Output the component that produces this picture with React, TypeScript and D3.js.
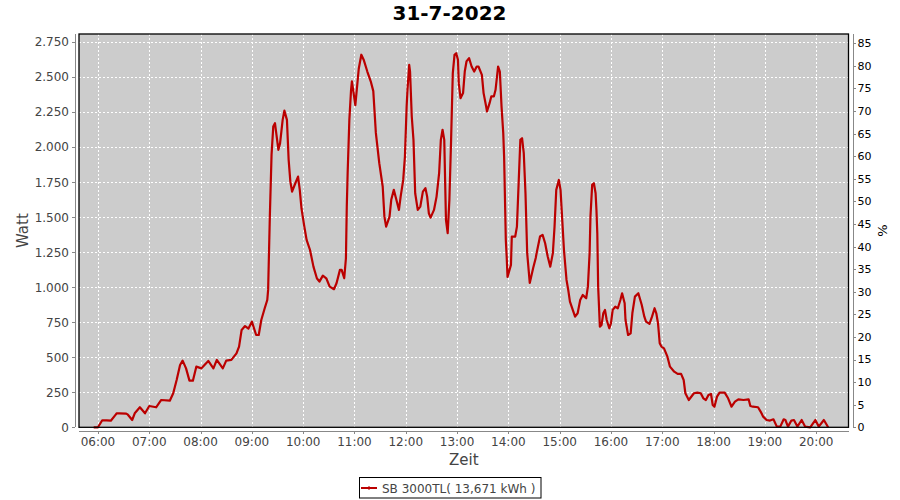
import React from "react";
import * as d3 from "d3";

const WIDTH = 900;
const HEIGHT = 500;
const PLOT = { left: 79, right: 848.5, top: 34, bottom: 427.3 };

const title = "31-7-2022";
const seriesName = "SB 3000TL( 13,671 kWh )";

// Messzeitpunkte (HH:MM) und Leistung in Watt, pro Stunde eine Zeile
const times = [
  "05:55", "06:00", "06:05", "06:10", "06:15", "06:20", "06:22", "06:25", "06:33", "06:35", "06:40", "06:43", "06:49", "06:55",
  "07:00", "07:08", "07:14", "07:24", "07:28", "07:32", "07:36", "07:39", "07:43", "07:47", "07:51", "07:55",
  "08:01", "08:09", "08:15", "08:19", "08:26", "08:30", "08:36", "08:42", "08:45", "08:48", "08:52", "08:56",
  "09:00", "09:05", "09:08", "09:11", "09:15", "09:18", "09:19", "09:21", "09:23", "09:25", "09:27", "09:31", "09:33", "09:36", "09:38", "09:41", "09:43", "09:45", "09:47", "09:50", "09:54", "09:56", "09:58",
  "10:01", "10:04", "10:08", "10:12", "10:16", "10:19", "10:23", "10:27", "10:31", "10:36", "10:39", "10:43", "10:45", "10:48", "10:50", "10:51", "10:52", "10:54", "10:56", "10:57",
  "11:01", "11:05", "11:08", "11:11", "11:15", "11:19", "11:22", "11:25", "11:29", "11:33", "11:35", "11:37", "11:41", "11:43", "11:46", "11:49", "11:52", "11:54", "11:57", "11:59",
  "12:01", "12:02", "12:04", "12:05", "12:07", "12:09", "12:11", "12:14", "12:17", "12:20", "12:23", "12:25", "12:27", "12:29", "12:33", "12:36", "12:39", "12:41", "12:43", "12:45", "12:47", "12:49", "12:51", "12:53", "12:55", "12:57", "12:59",
  "13:01", "13:02", "13:04", "13:07", "13:09", "13:11", "13:14", "13:17", "13:20", "13:23", "13:25", "13:29", "13:31", "13:34", "13:35", "13:38", "13:40", "13:43", "13:45", "13:48", "13:50", "13:52", "13:54", "13:55", "13:57", "13:58", "13:59",
  "14:03", "14:04", "14:08", "14:10", "14:12", "14:14", "14:16", "14:18", "14:20", "14:22", "14:25", "14:29", "14:32", "14:33", "14:37", "14:40", "14:43", "14:46", "14:49", "14:52", "14:54", "14:56", "14:59",
  "15:01", "15:03", "15:05", "15:08", "15:10", "15:12", "15:14", "15:16", "15:18", "15:21", "15:24", "15:27", "15:29", "15:31", "15:33", "15:35", "15:36", "15:38", "15:40", "15:42", "15:43", "15:44", "15:45", "15:47", "15:49", "15:51", "15:53", "15:55", "15:58",
  "16:00", "16:02", "16:05", "16:08", "16:11", "16:13", "16:16", "16:17", "16:20", "16:23", "16:25", "16:28", "16:32", "16:36", "16:39", "16:41", "16:45", "16:48", "16:51", "16:53", "16:55", "16:57", "16:59",
  "17:02", "17:06", "17:09", "17:14", "17:18", "17:22", "17:25", "17:27", "17:31", "17:37", "17:41", "17:45", "17:48", "17:51", "17:54", "17:57", "17:59",
  "18:01", "18:04", "18:07", "18:13", "18:17", "18:21", "18:25", "18:29", "18:35", "18:41", "18:43", "18:46", "18:52", "18:55", "18:58",
  "19:02", "19:06", "19:10", "19:14", "19:18", "19:22", "19:24", "19:27", "19:31", "19:34", "19:38", "19:43", "19:47", "19:53", "19:59",
  "20:03", "20:09", "20:14",
];

const watts = [
  0, 0, 50, 50, 47, 85, 100, 100, 98, 90, 52, 100, 143, 100,
  152, 143, 195, 190, 243, 338, 445, 476, 421, 333, 333, 433,
  421, 474, 421, 481, 421, 476, 481, 528, 576, 695, 723, 705,
  754, 659, 659, 766, 850, 909, 981, 1504, 1945, 2147, 2171, 1981, 2029, 2195, 2261, 2195, 1909, 1754, 1683, 1730, 1790, 1695, 1564,
  1445, 1338, 1266, 1147, 1064, 1040, 1083, 1064, 1004, 986, 1028, 1124, 1124, 1064, 1207, 1576, 1814, 2195, 2409, 2470,
  2300, 2560, 2660, 2620, 2540, 2470, 2400, 2102, 1886, 1719, 1504, 1433, 1504, 1624, 1695, 1624, 1552, 1647, 1766, 1933,
  2290, 2409, 2588, 2540, 2219, 2052, 1671, 1552, 1576, 1683, 1707, 1647, 1528, 1497, 1552, 1647, 1814, 2052, 2124, 2052, 1481, 1386, 1624, 2052, 2529, 2659, 2671,
  2624, 2457, 2350, 2386, 2540, 2612, 2636, 2576, 2540, 2576, 2576, 2516, 2386, 2290, 2255, 2314, 2362, 2362, 2410, 2576, 2540, 2290, 2100, 1933, 1338, 1219, 1074,
  1160, 1362, 1362, 1433, 1743, 2052, 2064, 1957, 1671, 1243, 1031, 1138, 1209, 1243, 1362, 1374, 1314, 1219, 1147, 1243, 1433, 1695, 1766,
  1695, 1481, 1266, 1052, 981, 897, 861, 826, 790, 814, 909, 945, 933, 921, 1004, 1243, 1504, 1731, 1743, 1671, 1552, 1386, 1004, 719, 731, 814, 838, 766, 707,
  743, 838, 861, 850, 909, 957, 885, 766, 659, 671, 814, 933, 957, 873, 790, 754, 738, 790, 850, 814, 743, 600, 576,
  564, 504, 433, 397, 381, 381, 338, 243, 195, 243, 248, 243, 207, 195, 231, 238, 159,
  147, 219, 248, 248, 207, 147, 183, 200, 195, 200, 152, 147, 143, 112, 76,
  52, 48, 57, 5, 5, 57, 52, 5, 48, 52, 5, 52, 5, 0, 52,
  5, 52, 0,
];

const wattTicks = [0, 250, 500, 750, 1000, 1250, 1500, 1750, 2000, 2250, 2500, 2750];
const percentTicks = [0, 5, 10, 15, 20, 25, 30, 35, 40, 45, 50, 55, 60, 65, 70, 75, 80, 85];
const hourTicks = ["06:00", "07:00", "08:00", "09:00", "10:00", "11:00", "12:00", "13:00", "14:00", "15:00", "16:00", "17:00", "18:00", "19:00", "20:00"];

const parse = d3.timeParse("%Y-%m-%d %H:%M:%S");
const at = (t: string) => parse(`2022-07-31 ${t.length === 5 ? t + ":00" : t}`) as Date;

const de = d3.formatLocale({ decimal: ",", thousands: ".", grouping: [3], currency: ["", " €"] });
const fmtWatt = de.format(",d");

const FONT = "DejaVu Sans";
const LINE_COLOR = "#bb0000";

export default function App() {
  const x = d3.scaleTime().domain([at("05:37:48"), at("20:37:48")]).range([PLOT.left, PLOT.right]);
  const y = d3.scaleLinear().domain([0, 2808]).range([PLOT.bottom, PLOT.top]);
  const yPct = d3.scaleLinear().domain([0, 87.05]).range([PLOT.bottom, PLOT.top]);

  const data = times.map((t, i) => ({ date: at(t), value: watts[i] }));
  const line = d3
    .line<{ date: Date; value: number }>()
    .x((d) => x(d.date))
    .y((d) => y(d.value));

  const midY = (PLOT.top + PLOT.bottom) / 2;
  const midX = (PLOT.left + PLOT.right) / 2;
  const axisLeftX = PLOT.left - 4;
  const axisRightX = PLOT.right + 4;
  const axisBottomY = PLOT.bottom + 4;
  const px = (v: number) => Math.round(v) + 0.5;

  return (
    <svg
      width={WIDTH}
      height={HEIGHT}
      style={{ position: "fixed", left: 0, top: 0, background: "#fff" }}
      fontFamily={FONT}
    >
      <text x={449.5} y={20} textAnchor="middle" fontSize={20} fontWeight="bold" fill="#000">
        {title}
      </text>

      <rect
        x={PLOT.left}
        y={PLOT.top}
        width={PLOT.right - PLOT.left}
        height={PLOT.bottom - PLOT.top}
        fill="#cccccc"
      />

      {/* gridlines */}
      <g stroke="#fff" strokeWidth={1} strokeDasharray="2,2" shapeRendering="crispEdges">
        {wattTicks.slice(1).map((v) => (
          <line key={v} x1={PLOT.left} x2={PLOT.right} y1={px(y(v))} y2={px(y(v))} />
        ))}
        {hourTicks.map((h) => (
          <line key={h} x1={px(x(at(h)))} x2={px(x(at(h)))} y1={PLOT.top} y2={PLOT.bottom} />
        ))}
      </g>

      <path d={line(data) ?? ""} fill="none" stroke={LINE_COLOR} strokeWidth={2.2} strokeLinejoin="round" />

      <rect
        x={PLOT.left}
        y={PLOT.top}
        width={PLOT.right - PLOT.left}
        height={PLOT.bottom - PLOT.top}
        fill="none"
        stroke="#000"
        strokeWidth={1.3}
      />

      {/* left axis */}
      <g stroke="#888" fill="none" shapeRendering="crispEdges">
        <line x1={px(axisLeftX)} x2={px(axisLeftX)} y1={PLOT.top} y2={PLOT.bottom} />
        {wattTicks.map((v) => (
          <line key={v} x1={axisLeftX - 3} x2={axisLeftX} y1={px(y(v))} y2={px(y(v))} />
        ))}
      </g>
      {wattTicks.map((v) => (
        <text key={v} x={axisLeftX - 6} y={y(v)} dy="0.36em" textAnchor="end" fontSize={12} fill="#444">
          {fmtWatt(v)}
        </text>
      ))}
      <text
        transform={`translate(27.5, ${midY}) rotate(-90)`}
        textAnchor="middle"
        fontSize={15}
        fill="#444"
      >
        Watt
      </text>

      {/* right axis */}
      <g stroke="#888" fill="none" shapeRendering="crispEdges">
        <line x1={px(axisRightX)} x2={px(axisRightX)} y1={PLOT.top} y2={PLOT.bottom} />
        {percentTicks.map((v) => (
          <line key={v} x1={axisRightX} x2={axisRightX + 3} y1={px(yPct(v))} y2={px(yPct(v))} />
        ))}
      </g>
      {percentTicks.map((v) => (
        <text key={v} x={axisRightX + 5} y={yPct(v)} dy="0.36em" fontSize={11} fill="#000">
          {v}
        </text>
      ))}
      <text
        transform={`translate(886.5, ${midY}) rotate(-90)`}
        textAnchor="middle"
        fontSize={13}
        fill="#000"
      >
        %
      </text>

      {/* bottom axis */}
      <g stroke="#888" fill="none" shapeRendering="crispEdges">
        <line x1={PLOT.left} x2={PLOT.right} y1={px(axisBottomY)} y2={px(axisBottomY)} />
        {hourTicks.map((h) => (
          <line key={h} x1={px(x(at(h)))} x2={px(x(at(h)))} y1={axisBottomY} y2={axisBottomY + 3} />
        ))}
      </g>
      {hourTicks.map((h) => (
        <text key={h} x={x(at(h))} y={446} textAnchor="middle" fontSize={12} fill="#444">
          {d3.timeFormat("%H:%M")(at(h))}
        </text>
      ))}
      <text x={midX} y={465} textAnchor="middle" fontSize={15} fill="#444">
        Zeit
      </text>

      {/* legend */}
      <g>
        <rect x={359.5} y={477.5} width={181.5} height={20.5} fill="#fff" stroke="#000" strokeWidth={1} />
        <line x1={361} x2={377} y1={488} y2={488} stroke={LINE_COLOR} strokeWidth={2} />
        <rect x={368} y={486.5} width={2} height={3} fill={LINE_COLOR} />
        <text x={382} y={492.5} fontSize={12} fill="#444">
          {seriesName}
        </text>
      </g>
    </svg>
  );
}
